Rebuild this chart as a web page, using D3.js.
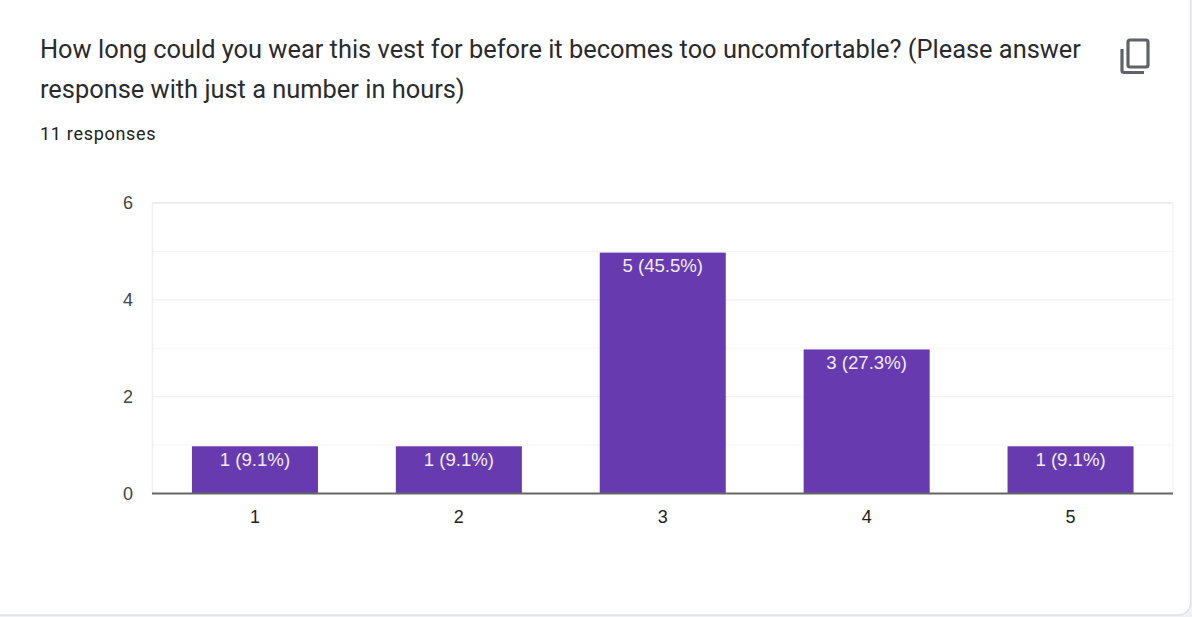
<!DOCTYPE html>
<html><head><meta charset="utf-8">
<script src="https://cdn.jsdelivr.net/npm/d3@7/dist/d3.min.js"></script>
<style>
html,body{margin:0;padding:0;background:#fff;width:1192px;height:617px;overflow:hidden}
svg{display:block}
text{font-family:"Liberation Sans",Arial,sans-serif}
.g{font-family:Roboto,"Open Sans",sans-serif}
</style></head><body>
<svg id="c" width="1192" height="617"></svg>
<script>
const categories = ["1","2","3","4","5"];
const counts = [1,1,5,3,1];
const valueLabels = ["1 (9.1%)","1 (9.1%)","5 (45.5%)","3 (27.3%)","1 (9.1%)"];
const yTicks = [0,2,4,6];
const yMinor = [1,3,5];
const titleLines = ["How long could you wear this vest for before it becomes too uncomfortable? (Please answer","response with just a number in hours)"];
const subtitle = "11 responses";

const svg = d3.select("#c");
svg.append("rect").attr("x",0).attr("y",0).attr("width",1192).attr("height",617).attr("fill","#f0f1f4");
svg.append("rect").attr("x",-12).attr("y",-12).attr("width",1202.5).attr("height",627)
  .attr("rx",12).attr("fill","#fff").attr("stroke","#dfe1e7").attr("stroke-width",1.5);

svg.selectAll(".title").data(titleLines).join("text").attr("class","g")
  .attr("x",40).attr("y",(d,i)=>i?98:58).attr("font-size",25.4).attr("fill","#2a2b2e").text(d=>d);
svg.append("text").attr("class","g").attr("x",40).attr("y",140).attr("font-size",18)
  .attr("letter-spacing",0.7).attr("fill","#202124").text(subtitle);

const ic = svg.append("g").attr("fill","none").attr("stroke","#5f6368").attr("stroke-width",3.2);
ic.append("rect").attr("x",1128).attr("y",40).attr("width",20).attr("height",27).attr("rx",2);
ic.append("path").attr("d","M1122 49V70.5a2 2 0 0 0 2 2H1144");

const x = d3.scaleBand().domain(categories).range([153,1172.5]).paddingInner(0.382).paddingOuter(0.191);
const y = d3.scaleLinear().domain([0,6]).range([493.5,203]);

svg.selectAll(".minor").data(yMinor).join("line")
  .attr("x1",152).attr("x2",1173).attr("y1",d=>y(d)).attr("y2",d=>y(d)).attr("stroke","#f5f5f5").attr("stroke-width",1);
svg.selectAll(".major").data(yTicks.filter(d=>d>0)).join("line")
  .attr("x1",152).attr("x2",1173).attr("y1",d=>y(d)).attr("y2",d=>y(d)).attr("stroke","#eeeeee").attr("stroke-width",d=>d===6?2:1);
svg.append("line").attr("x1",152.5).attr("x2",152.5).attr("y1",y(6)).attr("y2",y(0)).attr("stroke","#f0f0f0").attr("stroke-width",1.5);
svg.append("line").attr("x1",1173).attr("x2",1173).attr("y1",y(6)).attr("y2",y(0)).attr("stroke","#f0f0f0").attr("stroke-width",1);

const rows = categories.map((c,i)=>({c,v:counts[i],l:valueLabels[i]}));
const inset = 1.2;
svg.selectAll(".bar").data(rows).join("rect")
  .attr("x",d=>x(d.c)).attr("width",x.bandwidth())
  .attr("y",d=>y(d.v)+inset).attr("height",d=>y(0)-y(d.v)-inset).attr("fill","#673ab0");
svg.selectAll(".val").data(rows).join("text")
  .attr("x",d=>x(d.c)+x.bandwidth()/2).attr("y",d=>y(d.v)+21)
  .attr("text-anchor","middle").attr("font-size",18.6).attr("fill","#f1ecf8").text(d=>d.l);

svg.append("line").attr("x1",152).attr("x2",1173).attr("y1",y(0)).attr("y2",y(0)).attr("stroke","#666666").attr("stroke-width",2);

const ax = svg.append("g").attr("transform","translate(0,"+y(0)+")").call(d3.axisBottom(x).tickSize(0).tickPadding(0));
ax.select(".domain").remove();
ax.selectAll("text").attr("y",29).attr("dy",0).attr("font-size",18).attr("font-family","Liberation Sans").attr("fill","#222");
const ay = svg.append("g").attr("transform","translate(133,0)").call(d3.axisLeft(y).tickValues(yTicks).tickFormat(d3.format("d")).tickSize(0).tickPadding(0));
ay.select(".domain").remove();
ay.selectAll("text").attr("dy",0).attr("y",5.5).attr("font-size",18).attr("font-family","Liberation Sans").attr("fill","#444");
</script></body></html>
